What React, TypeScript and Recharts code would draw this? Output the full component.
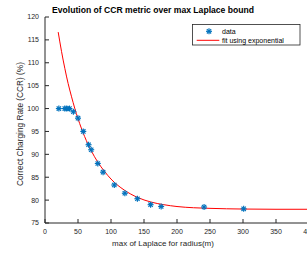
import { ComposedChart, Line, Scatter, XAxis, YAxis } from 'recharts';

const dataX = [21, 30, 33, 37, 43, 50, 58, 66, 70, 80, 88, 105, 121, 140, 160, 176, 241, 301];
const dataY = [100, 100, 100, 100, 99.3, 97.9, 95, 92.1, 91, 88, 86.1, 83.3, 81.5, 80.3, 79, 78.6, 78.5, 78.1];

const fitX = [20, 25, 30, 35, 40, 45, 50, 60, 70, 80, 90, 100, 120, 140, 160, 180, 200, 250, 300, 350, 400];
const fitY = [116.7, 112.5, 108.8, 105.5, 102.7, 100.1, 97.8, 93.9, 90.8, 88.3, 86.3, 84.6, 82.2, 80.6, 79.6, 79.0, 78.6, 78.2, 78.05, 78.0, 78.0];

const xTicks = [0, 50, 100, 150, 200, 250, 300, 350, 400];
const yTicks = [75, 80, 85, 90, 95, 100, 105, 110, 115, 120];

const points = dataX.map((x, i) => ({ x, y: dataY[i] }));
const fit = fitX.map((x, i) => ({ x, y: fitY[i] }));

const FONT = '"Liberation Sans", Arial, Helvetica, sans-serif';
const AXIS = '#262626';
const BLUE = '#0072BD';

// matlab-style '*' marker
const Asterisk = (props: any) => {
  const { cx, cy } = props;
  const r = 3;
  const d = r * 0.72;
  return (
    <g stroke={BLUE} strokeWidth={1.2}>
      <line x1={cx - r} y1={cy} x2={cx + r} y2={cy} />
      <line x1={cx} y1={cy - r} x2={cx} y2={cy + r} />
      <line x1={cx - d} y1={cy - d} x2={cx + d} y2={cy + d} />
      <line x1={cx - d} y1={cy + d} x2={cx + d} y2={cy - d} />
    </g>
  );
};

export default function App() {
  const tick = { fill: AXIS, fontSize: 7, fontFamily: FONT };
  return (
    <div style={{ position: 'absolute', left: 0, top: 0, width: 307, height: 253, overflow: 'hidden', background: '#fff' }}>
      <ComposedChart width={315} height={253} margin={{ top: 17, right: 6, bottom: 0, left: 0 }}>
        <XAxis
          xAxisId="b"
          dataKey="x"
          type="number"
          domain={[0, 400]}
          ticks={xTicks}
          tick={tick}
          tickSize={-4}
          tickMargin={10}
          height={30}
          stroke={AXIS}
          allowDataOverflow
        />
        <XAxis
          xAxisId="t"
          orientation="top"
          type="number"
          domain={[0, 400]}
          ticks={xTicks}
          tick={false}
          tickSize={-4}
          height={0}
          stroke={AXIS}
        />
        <YAxis
          yAxisId="l"
          dataKey="y"
          type="number"
          domain={[75, 120]}
          ticks={yTicks}
          tick={tick}
          tickSize={-4}
          tickMargin={10}
          width={45}
          stroke={AXIS}
          allowDataOverflow
        />
        <YAxis
          yAxisId="r"
          orientation="right"
          type="number"
          domain={[75, 120]}
          ticks={yTicks}
          tick={false}
          tickSize={-4}
          width={0}
          stroke={AXIS}
        />
        <Line
          xAxisId="b"
          yAxisId="l"
          data={fit}
          dataKey="y"
          type="monotone"
          stroke="#FF0000"
          strokeWidth={1}
          dot={false}
          isAnimationActive={false}
        />
        <Scatter
          xAxisId="b"
          yAxisId="l"
          data={points}
          dataKey="y"
          shape={Asterisk}
          isAnimationActive={false}
        />
      </ComposedChart>

      <svg width={307} height={253} style={{ position: 'absolute', left: 0, top: 0, pointerEvents: 'none' }}>
        <text x={153} y={13} textAnchor="middle" fontFamily={FONT} fontSize={8.6} fontWeight="bold" fill="#000">
          Evolution of CCR metric over max Laplace bound
        </text>
        <text x={163} y={246} textAnchor="middle" fontFamily={FONT} fontSize={8} fill={AXIS}>
          max of Laplace for radius(m)
        </text>
        <text
          x={0}
          y={0}
          transform="translate(23 124) rotate(-90)"
          textAnchor="middle"
          fontFamily={FONT}
          fontSize={8.3}
          fill={AXIS}
        >
          Correct Charging Rate (CCR) (%)
        </text>

        <g>
          <rect x={192.5} y={24.5} width={107.5} height={20.5} fill="#fff" stroke={AXIS} strokeWidth={0.8} />
          <Asterisk cx={209} cy={31.3} />
          <text x={222} y={33.6} fontFamily={FONT} fontSize={7} fill="#000">data</text>
          <line x1={196.7} y1={40.3} x2={219.3} y2={40.3} stroke="#FF0000" strokeWidth={1} />
          <text x={222} y={42.6} fontFamily={FONT} fontSize={7} fill="#000">fit using exponential</text>
        </g>
      </svg>
    </div>
  );
}
